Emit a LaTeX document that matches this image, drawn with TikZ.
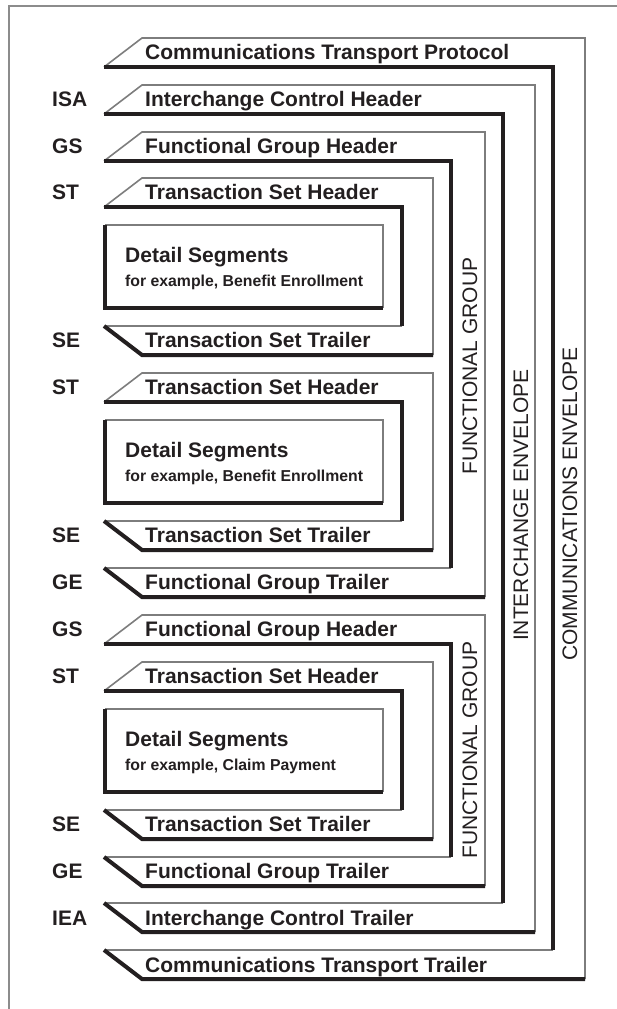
\documentclass[tikz,border=0pt]{standalone}
\usepackage{fontspec}
\setmainfont{Liberation Sans}
\definecolor{ink}{RGB}{35,31,32}
\definecolor{thincol}{RGB}{125,125,125}
\definecolor{framecol}{RGB}{140,140,140}
\tikzset{
  thinln/.style={draw=thincol, line width=1.6pt, line join=miter},
  thickln/.style={draw=ink, line width=4pt, line join=miter},
  hdr/.style={anchor=base west, inner sep=0pt, text=ink, font=\fontsize{21}{25}\selectfont\bfseries},
  subtxt/.style={anchor=base west, inner sep=0pt, text=ink, font=\fontsize{15.8}{19}\selectfont\bfseries},
  vlab/.style={rotate=90, inner sep=0pt, text=ink, font=\fontsize{21}{25}\selectfont},
}
% #1 header top, #2 trailer top, #3 inner thick x, #4 outer thin x
\newcommand\EnvShape[4]{%
  \draw[thinln] (#3,#2) -- (105,#2);
  \draw[thinln] (104,#1+29) -- (142,#1) -- (#4,#1) -- (#4,#2+29);
  \draw[thickln] (104,#1+29) -- (#3,#1+29) -- (#3,#2);
  \draw[thickln] (104,#2) -- (142,#2+29) -- (#4,#2+29);
}
\newcommand\DetailBox[1]{%
  \draw[thinln] (105,#1) -- (383,#1) -- (383,#1+83);
  \draw[thickln] (105,#1) -- (105,#1+83) -- (383,#1+83);
}
\begin{document}
\begin{tikzpicture}[x=1pt,y=-1pt]
\useasboundingbox (0,0) rectangle (617,1009);
% outer frame
\draw[draw=framecol, line width=2pt] (9,1012) -- (9,6) -- (620,6);

% envelopes
\EnvShape{38}{950}{553}{585}
\EnvShape{85}{903}{503}{535}
\EnvShape{132}{568}{451}{485}
\EnvShape{178}{326}{402}{433}
\EnvShape{373}{521}{402}{433}
\EnvShape{615}{857}{451}{485}
\EnvShape{662}{810}{402}{433}

\DetailBox{225}
\DetailBox{420}
\DetailBox{709}

% header / trailer texts
\node[hdr] (cth) at (145,38+21) {Communications Transport Protocol};
\node[hdr] (ich) at (145,85+21) {Interchange Control Header};
\node[hdr] (fgh1) at (145,132+21) {Functional Group Header};
\node[hdr] (tsh1) at (145,178+21.5) {Transaction Set Header};
\node[hdr] (tst1) at (145,326+21.5) {Transaction Set Trailer};
\node[hdr] (tsh2) at (145,373+21.5) {Transaction Set Header};
\node[hdr] (tst2) at (145,521+21.5) {Transaction Set Trailer};
\node[hdr] (fgt1) at (145,568+21.5) {Functional Group Trailer};
\node[hdr] (fgh2) at (145,615+21.5) {Functional Group Header};
\node[hdr] (tsh3) at (145,662+21.5) {Transaction Set Header};
\node[hdr] (tst3) at (145,810+21.5) {Transaction Set Trailer};
\node[hdr] (fgt2) at (145,857+21.5) {Functional Group Trailer};
\node[hdr] (ict) at (145,903+22) {Interchange Control Trailer};
\node[hdr] (ctt) at (145,950+22) {Communications Transport Trailer};

% segment labels
\node[hdr] (lisa) at (52,85+21) {ISA};
\node[hdr] (lgs1) at (52,132+21) {GS};
\node[hdr] (lst1) at (52,178+21.5) {ST};
\node[hdr] (lse1) at (52,326+21.5) {SE};
\node[hdr] (lst2) at (52,373+21.5) {ST};
\node[hdr] (lse2) at (52,521+21.5) {SE};
\node[hdr] (lge1) at (52,568+21.5) {GE};
\node[hdr] (lgs2) at (52,615+21.5) {GS};
\node[hdr] (lst3) at (52,662+21.5) {ST};
\node[hdr] (lse3) at (52,810+21.5) {SE};
\node[hdr] (lge2) at (52,857+21.5) {GE};
\node[hdr] (liea) at (52,903+22) {IEA};

% detail segments
\node[hdr] (ds1) at (125,225+37.5) {Detail Segments};
\node[subtxt] (ex1) at (125,225+61.5) {for example, Benefit Enrollment};
\node[hdr] (ds2) at (125,420+37.5) {Detail Segments};
\node[subtxt] (ex2) at (125,420+61.5) {for example, Benefit Enrollment};
\node[hdr] (ds3) at (125,709+37.5) {Detail Segments};
\node[subtxt] (ex3) at (125,709+61.5) {for example, Claim Payment};

% vertical labels
\node[vlab] (vfg1) at (470,366) {FUNCTIONAL GROUP};
\node[vlab] (vfg2) at (470,750) {FUNCTIONAL GROUP};
\node[vlab] (vie) at (521,505) {INTERCHANGE ENVELOPE};
\node[vlab] (vce) at (570,504) {COMMUNICATIONS ENVELOPE};
\end{tikzpicture}
\end{document}
